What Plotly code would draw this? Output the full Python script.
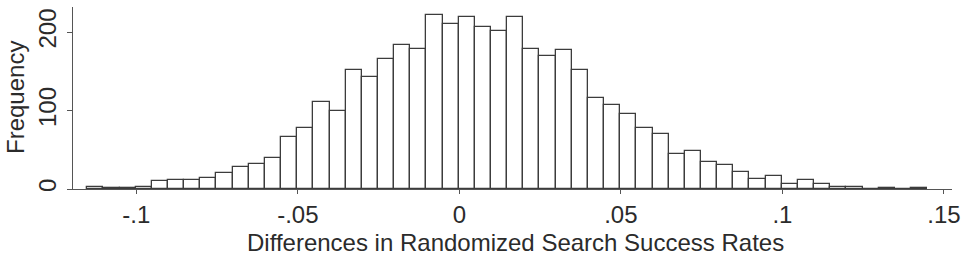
import numpy as np
import plotly.graph_objects as go

# Histogram data (bin width 0.005)
bin_start = -0.1152
bin_width = 0.005
counts = [2, 1, 1, 3, 10, 11, 11, 14, 20, 28, 32, 39, 66, 78, 111, 99,
          152, 143, 166, 184, 178, 222, 210, 219, 207, 201, 219, 178, 170,
          177, 152, 116, 107, 95, 78, 70, 45, 49, 34, 31, 22, 13, 16, 7,
          11, 6, 3, 2, 0, 1, 0, 1]

x_tickvals = [-0.1, -0.05, 0, 0.05, 0.1, 0.15]
x_ticktext = ["-.1", "-.05", "0", ".05", ".1", ".15"]
y_tickvals = [0, 100, 200]
y_ticktext = ["0", "100", "200"]

x_title = "Differences in Randomized Search Success Rates"
y_title = "Frequency"

centers = bin_start + bin_width * (np.arange(len(counts)) + 0.5)

FONT = "Liberation Sans, Arial, sans-serif"
TXT = "#2b2b2b"

fig = go.Figure(go.Bar(
    x=centers, y=counts, width=bin_width,
    marker=dict(color="white", line=dict(color="#3c3c3c", width=1.3)),
    showlegend=False, hoverinfo="x+y",
))

fig.update_layout(
    width=969, height=258,
    margin=dict(l=73, r=17, t=7, b=69),
    paper_bgcolor="white", plot_bgcolor="white",
    font=dict(family=FONT, size=24, color=TXT),
    bargap=0,
    xaxis=dict(range=[-0.1196, 0.1525], tickvals=x_tickvals, ticktext=x_ticktext,
               showgrid=False, zeroline=False, showline=True, linecolor="#555",
               linewidth=1, ticks="outside", ticklen=4, tickcolor="#555",
               tickfont=dict(size=24, color=TXT, family=FONT)),
    yaxis=dict(range=[0, 232], tickvals=y_tickvals, ticktext=y_ticktext,
               showgrid=False, zeroline=False, showline=True, linecolor="#555",
               linewidth=1, ticks="outside", ticklen=5, tickcolor="#555",
               tickangle=-90, ticklabelstandoff=1,
               tickfont=dict(size=24, color=TXT, family=FONT)),
    annotations=[
        dict(text=x_title, xref="paper", yref="paper", x=(515 - 73) / 879,
             y=-(242 - 189) / 182, xanchor="center", yanchor="middle",
             showarrow=False, font=dict(size=24, color=TXT, family=FONT)),
        dict(text=y_title, xref="paper", yref="paper", x=(15 - 73) / 879,
             y=(189 - 97) / 182, xanchor="center", yanchor="middle",
             textangle=-90, showarrow=False,
             font=dict(size=24, color=TXT, family=FONT)),
    ],
)

fig.write_html("out.html")
